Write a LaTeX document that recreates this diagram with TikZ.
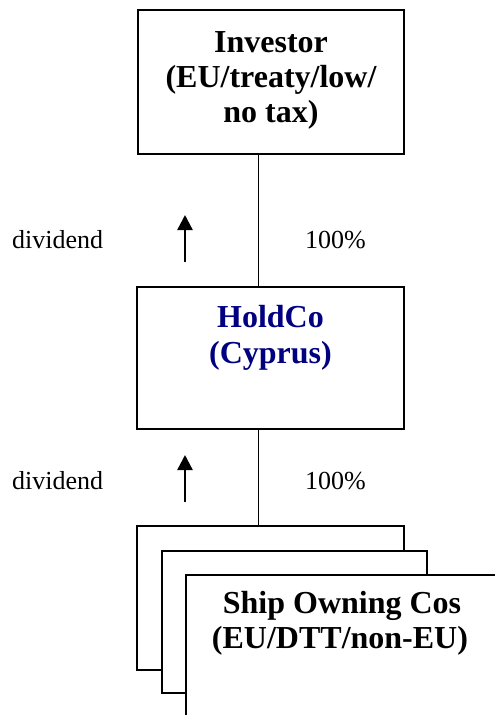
\documentclass[tikz,border=0pt]{standalone}
\usepackage{fontspec}
\setmainfont{Liberation Serif}
\usetikzlibrary{arrows.meta}
\definecolor{holdblue}{RGB}{0,0,128}
\tikzset{
  entity/.style={draw=black, fill=white, line width=1.6pt},
  heavy/.style={line width=2.4pt},
  title/.style={font=\fontsize{32}{35}\selectfont\bfseries, inner sep=0pt, anchor=base},
  note/.style={font=\fontsize{26}{30}\selectfont, inner sep=0pt, anchor=base west},
  stem/.style={line width=1.6pt},
  flow/.style={line width=2.4pt, -{Triangle[width=15pt,length=15pt]}}
}
\begin{document}
\begin{tikzpicture}[x=1pt, y=-1pt]
\useasboundingbox (0,0) rectangle (495,715);

% boxes
\draw[entity] (138,10) rectangle (404,154);
\coordinate (invS) at (271,154);
\draw[entity, heavy] (137,287) rectangle (404,429);
\coordinate (holdN) at (270.5,287);
\coordinate (holdS) at (270.5,429);
\draw[entity, line width=1.8pt] (137,526) rectangle (404,670);
\coordinate (shipN) at (270.5,526);
\draw[entity, line width=1.8pt] (162,551) rectangle (427,693);
\draw[entity, line width=1.8pt] (186,575) rectangle (500,719);

% box texts
\node[title] (inv1) at (271,52.5) {Investor};
\node[title] (inv2) at (271,87.5) {(EU/treaty/low/};
\node[title] (inv3) at (271,122.5) {no tax)};
\node[title, text=holdblue] (hold1) at (270.5,327.5) {HoldCo};
\node[title, text=holdblue] (hold2) at (270.5,363) {(Cyprus)};
\node[title] (ship1) at (342,613.5) {Ship Owning Cos};
\node[title] (ship2) at (340,648.5) {(EU/DTT/non-EU)};

% ownership lines
\coordinate (axis) at (258.5,0);
\draw[stem] (invS -| axis) -- (holdN -| axis);
\draw[stem] (holdS -| axis) -- (shipN -| axis);

% dividend flows
\coordinate (d1a) at (185,262);
\coordinate (d1b) at (185,215);
\coordinate (d2a) at (185,502);
\coordinate (d2b) at (185,455);
\draw[flow] (d1a) -- (d1b);
\draw[flow] (d2a) -- (d2b);

% side notes
\node[note] (div1) at (12,248) {dividend};
\node[note] (pct1) at (305,248) {100\%};
\node[note] (div2) at (12,489) {dividend};
\node[note] (pct2) at (305,489) {100\%};
\end{tikzpicture}
\end{document}
